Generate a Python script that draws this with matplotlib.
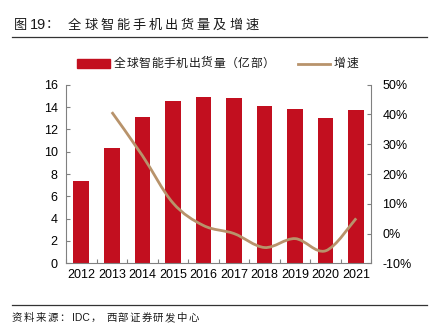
import matplotlib
matplotlib.use('Agg')
import matplotlib.pyplot as plt
from matplotlib.path import Path
from matplotlib.patches import PathPatch, Rectangle
from matplotlib.lines import Line2D
import numpy as np

plt.rcParams['font.family'] = ['Liberation Sans', 'Noto Sans CJK SC', 'DejaVu Sans']

years = ['2012', '2013', '2014', '2015', '2016', '2017', '2018', '2019', '2020', '2021']
shipments = [7.4, 10.35, 13.15, 14.55, 14.9, 14.8, 14.1, 13.85, 13.05, 13.7]
growth_years = years[1:]
growth = [40.8, 26.2, 10.3, 2.7, 0.0, -4.7, -1.7, -5.8, 5.1]

bar_color = '#C20F1F'
line_color = '#B8936B'
spine_color = '#808080'
cjk = ['Noto Sans CJK SC', 'DejaVu Sans']

W, H = 437, 331
fig = plt.figure(figsize=(W / 100, H / 100), dpi=100)


def fx(px):
    return px / W


def fy(py):
    return 1 - py / H


def spaced(x0, y0, tokens, pitch, size, family=None):
    # tokens: list of (text, advance in px) or plain strings advancing by pitch
    xpos = x0
    for tok in tokens:
        if isinstance(tok, tuple):
            s, adv = tok
        else:
            s, adv = tok, pitch
        fig.text(fx(xpos), fy(y0), s, fontsize=size, family=family or cjk,
                 ha='left', va='center', color='#1a1a1a')
        xpos += adv


ax = fig.add_axes([0.151, 0.2045, 0.699, 0.5395])
ax2 = ax.twinx()

x = np.arange(len(years))
ax.bar(x, shipments, width=0.51, color=bar_color, zorder=2)
ax.set_xlim(-0.5, len(years) - 0.5)
ax.set_ylim(0, 16)
ax.set_yticks(np.arange(0, 17, 2))
ax.set_xticks(x)
ax.set_xticklabels(years)
ax.set_xticks(np.arange(-0.5, len(years)), minor=True)

# smooth growth line (Catmull-Rom -> cubic bezier through the data points)
gx = np.array([years.index(y) for y in growth_years], dtype=float)
gy = np.array(growth, dtype=float)
verts = [(gx[0], gy[0])]
codes = [Path.MOVETO]
for i in range(len(gx) - 1):
    p0 = (gx[max(i - 1, 0)], gy[max(i - 1, 0)])
    p1 = (gx[i], gy[i])
    p2 = (gx[i + 1], gy[i + 1])
    p3 = (gx[min(i + 2, len(gx) - 1)], gy[min(i + 2, len(gx) - 1)])
    c1 = (p1[0] + (p2[0] - p0[0]) / 6, p1[1] + (p2[1] - p0[1]) / 6)
    c2 = (p2[0] - (p3[0] - p1[0]) / 6, p2[1] - (p3[1] - p1[1]) / 6)
    verts += [c1, c2, p2]
    codes += [Path.CURVE4] * 3
ax2.add_patch(PathPatch(Path(verts, codes), facecolor='none', edgecolor=line_color,
                        lw=2, capstyle='butt', zorder=3))
ax2.set_ylim(-10, 50)
ax2.set_yticks(np.arange(-10, 51, 10))
ax2.set_yticklabels(['%d%%' % v for v in range(-10, 51, 10)])

for a in (ax, ax2):
    a.spines['top'].set_visible(False)
    for s in ('left', 'right', 'bottom'):
        a.spines[s].set_color(spine_color)
        a.spines[s].set_linewidth(0.8)
    a.tick_params(axis='both', which='both', direction='in', color=spine_color,
                  labelsize=9, length=3, width=0.8)
ax.spines['right'].set_visible(False)
ax2.spines['left'].set_visible(False)
ax2.spines['bottom'].set_visible(False)
ax.tick_params(axis='x', which='major', length=0, pad=4)
ax.tick_params(axis='x', which='minor', length=3)
ax.tick_params(axis='y', pad=6)
ax2.tick_params(axis='y', pad=8)

# legend, drawn by hand to keep the wide letter spacing
fig.add_artist(Rectangle((fx(77), fy(68)), fx(33), 9 / H, color=bar_color,
                         transform=fig.transFigure))
spaced(114, 63, list('全球智能手机出货量（亿部）'), 12.4, 8.5)
fig.add_artist(Line2D([fx(298), fx(330)], [fy(63.5), fy(63.5)], color=line_color, lw=2))
spaced(334, 63, list('增速'), 12.4, 8.5)

# title
spaced(14, 25, [('图', 16)], 0, 9.5)
spaced(30, 25, ['19'], 0, 10.5, family=['Liberation Sans'])
spaced(46, 25, [('：', 22)] + list('全球智能手机出货量及增速'), 16.1, 9.5)
fig.add_artist(Line2D([fx(12), fx(427)], [fy(37), fy(37)], color='#333333', lw=0.9))
fig.add_artist(Line2D([fx(12), fx(427)], [fy(305), fy(305)], color='#333333', lw=0.9))

# source
spaced(12, 318, list('资料来源：'), 11.8, 7.5)
spaced(72, 318, ['IDC'], 0, 7.5, family=['Liberation Sans'])
spaced(91, 318, [('，', 15)] + list('西部证券研发中心'), 11.8, 7.5)

plt.savefig('out.png', dpi=100)
